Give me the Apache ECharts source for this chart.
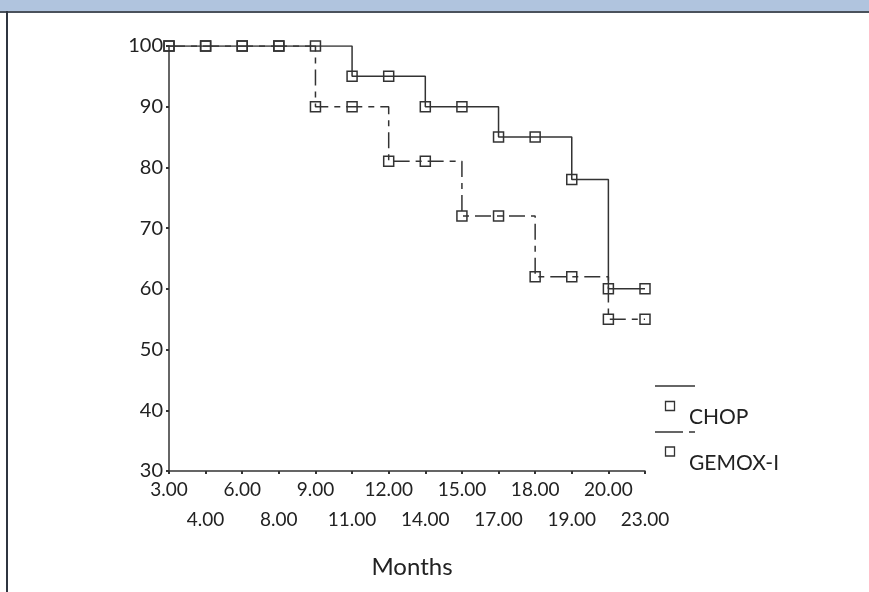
<!DOCTYPE html>
<html>
<head>
<meta charset="utf-8">
<script src="https://cdn.jsdelivr.net/npm/echarts@6/dist/echarts.min.js"></script>
<style>
    html, body {margin: 0; padding: 0; background: #fff;}
    #chart {width: 869px; height: 592px;}
</style>
</head>
<body>
<div id="chart"></div>
<script>
// x categories (months) and survival % per group
var months = ['3.00', '4.00', '6.00', '8.00', '9.00', '11.00', '12.00', '14.00', '15.00', '17.00', '18.00', '19.00', '20.00', '23.00'];
var chop = [100, 100, 100, 100, 100, 95, 95, 90, 90, 85, 85, 78, 60, 60];
var gemox = [100, 100, 100, 100, 90, 90, 81, 81, 72, 72, 62, 62, 55, 55];
var yMin = 30, yMax = 100, yStep = 10;
var names = ['CHOP', 'GEMOX-I'];

var ink = '#333';
var font = 'Lato, "Open Sans", sans-serif';

var myChart = echarts.init(document.getElementById('chart'));

function markerStyle() {
    return {color: 'rgba(255,255,255,0)', borderColor: ink, borderWidth: 1.5};
}

var option = {
    animation: false,
    grid: {left: 169, right: 224, top: 46, bottom: 121},
    xAxis: {
        type: 'category',
        data: months,
        boundaryGap: false,
        name: 'Months',
        nameLocation: 'middle',
        nameGap: 84,
        nameTextStyle: {fontFamily: font, fontSize: 24, color: '#222', padding: [0, 0, 0, 10]},
        axisLine: {lineStyle: {color: ink, width: 1.5}},
        axisTick: {show: true, length: 3, lineStyle: {color: ink, width: 2}},
        axisLabel: {
            interval: 0,
            margin: 4,
            fontFamily: font,
            fontSize: 19,
            lineHeight: 30,
            color: '#222',
            formatter: function (value, index) {
                return index % 2 == 1 ? '\n' + value : value;   // 交错两行
            }
        },
        splitLine: {show: false}
    },
    yAxis: {
        type: 'value',
        min: yMin,
        max: yMax,
        interval: yStep,
        axisLine: {show: true, lineStyle: {color: ink, width: 1.5}},
        axisTick: {show: true, length: 3, lineStyle: {color: ink, width: 2}},
        axisLabel: {margin: 6, fontFamily: font, fontSize: 20, color: '#222'},
        splitLine: {show: false}
    },
    series: [
        {
            name: names[1],
            type: 'line',
            step: 'end',
            data: gemox,
            symbol: 'rect',
            symbolSize: 10,
            itemStyle: markerStyle(),
            lineStyle: {color: ink, width: 1.5, type: [16, 6, 6, 6]},
            z: 2
        },
        {
            name: names[0],
            type: 'line',
            step: 'end',
            data: chop,
            symbol: 'rect',
            symbolSize: 10,
            itemStyle: markerStyle(),
            lineStyle: {color: ink, width: 1.5},
            z: 3
        }
    ],
    graphic: [
        // header band + frame
        {type: 'rect', shape: {x: 0, y: 0, width: 869, height: 11}, style: {fill: '#b0c4de'}},
        {type: 'rect', shape: {x: 0, y: 11, width: 869, height: 2}, style: {fill: '#4a525c'}},
        {type: 'rect', shape: {x: 6, y: 11, width: 2, height: 581}, style: {fill: '#2f3540'}},
        // legend
        {type: 'line', shape: {x1: 655, y1: 386, x2: 695, y2: 386}, style: {stroke: ink, lineWidth: 1.3}},
        {type: 'rect', shape: {x: 665.5, y: 401.5, width: 9, height: 9}, style: {fill: 'none', stroke: ink, lineWidth: 1.3}},
        {type: 'text', x: 689, y: 417, style: {text: names[0], font: '21px ' + font, fill: '#222', verticalAlign: 'middle'}},
        {type: 'line', shape: {x1: 655, y1: 432, x2: 695, y2: 432}, style: {stroke: ink, lineWidth: 1.3, lineDash: [28, 6, 6, 6]}},
        {type: 'rect', shape: {x: 665.5, y: 447, width: 9, height: 9}, style: {fill: 'none', stroke: ink, lineWidth: 1.3}},
        {type: 'text', x: 689, y: 463, style: {text: names[1], font: '21px ' + font, fill: '#222', verticalAlign: 'middle'}}
    ]
};
myChart.setOption(option);
</script>
</body>
</html>
